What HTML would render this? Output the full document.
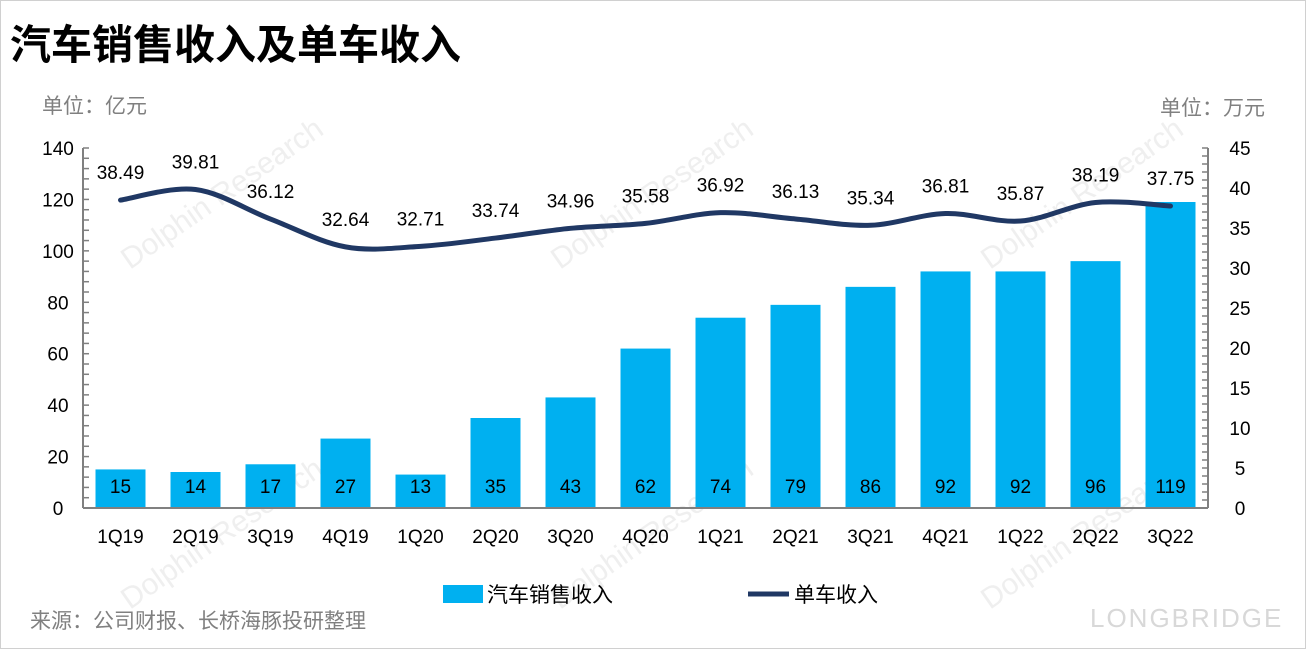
<!DOCTYPE html>
<html><head><meta charset="utf-8"><style>
body{margin:0;background:#fff;}
svg{display:block;font-family:"Liberation Sans","Noto Sans CJK SC",sans-serif;}
</style></head><body>
<svg id="c" width="1306" height="649" viewBox="0 0 1306 649">
<rect x="0.5" y="0.5" width="1305" height="648" fill="#fff" stroke="#d0d0d0"/>
<text x="10" y="59" font-size="41" font-weight="bold" fill="#000" font-family="'Noto Sans CJK SC',sans-serif">汽车销售收入及单车收入</text>
<text x="42" y="113" font-size="21" fill="#808080">单位：亿元</text>
<text x="1160" y="115" font-size="21" fill="#808080">单位：万元</text>
<g id="wm" fill="#e8e8e8" font-size="30" opacity="0.7">
<text x="130" y="270" transform="rotate(-35 130 270)">Dolphin Research</text>
<text x="560" y="270" transform="rotate(-35 560 270)">Dolphin Research</text>
<text x="990" y="270" transform="rotate(-35 990 270)">Dolphin Research</text>
<text x="130" y="610" transform="rotate(-35 130 610)">Dolphin Research</text>
<text x="560" y="610" transform="rotate(-35 560 610)">Dolphin Research</text>
<text x="990" y="610" transform="rotate(-35 990 610)">Dolphin Research</text>
</g>
<text x="1090" y="627" font-size="26" fill="#d8d8d8" letter-spacing="2">LONGBRIDGE</text>
<g id="plot"></g>
<rect x="443" y="585" width="40" height="18" fill="#00b0f0"/>
<text x="487" y="602" font-size="21" fill="#000">汽车销售收入</text>
<line x1="748" y1="594" x2="789" y2="594" stroke="#203864" stroke-width="5"/>
<text x="794" y="602" font-size="21" fill="#000">单车收入</text>
<text x="30" y="628" font-size="21" fill="#808080">来源：公司财报、长桥海豚投研整理</text>
</svg>
<script>
const categories=["1Q19","2Q19","3Q19","4Q19","1Q20","2Q20","3Q20","4Q20","1Q21","2Q21","3Q21","4Q21","1Q22","2Q22","3Q22"];
const revenue=[15,14,17,27,13,35,43,62,74,79,86,92,92,96,119];
const perCar=[38.49,39.81,36.12,32.64,32.71,33.74,34.96,35.58,36.92,36.13,35.34,36.81,35.87,38.19,37.75];
const leftTicks=[0,20,40,60,80,100,120,140];
const rightTicks=[0,5,10,15,20,25,30,35,40,45];

const NS="http://www.w3.org/2000/svg";
const g=document.getElementById('plot');
const y0=508,yTop=148,xL=83,xR=1208;
const yL=v=>y0-(y0-yTop)*v/140;
const yR=v=>y0-(y0-yTop)*v/45;
const step=75,x0=120.5;
const xC=i=>x0+i*step;
function el(t,a,txt){const e=document.createElementNS(NS,t);for(const k in a)e.setAttribute(k,a[k]);if(txt!==undefined)e.textContent=txt;g.appendChild(e);return e;}

let e=el('line',{x1:xL,y1:yTop,x2:xL,y2:y0,stroke:'#808080','stroke-width':2});

e=el('line',{x1:xR,y1:yTop,x2:xR,y2:y0,stroke:'#808080','stroke-width':2});

for(let v=0;v<=140;v+=4){const y=yL(v);e=el('line',{x1:xL,y1:y,x2:xL+6,y2:y,stroke:'#808080','stroke-width':1.5});
}
for(let v=0;v<=45;v+=1){const y=yR(v);e=el('line',{x1:xR-6,y1:y,x2:xR,y2:y,stroke:'#808080','stroke-width':1.5});
}
leftTicks.forEach(v=>{e=el('text',{x:58,y:yL(v)+7,'font-size':19,'text-anchor':'middle',fill:'#000'},String(v));
});
rightTicks.forEach(v=>{e=el('text',{x:1240,y:yR(v)+7,'font-size':19,'text-anchor':'middle',fill:'#000'},String(v));
});

categories.forEach((c,i)=>{
 const v=revenue[i];
 e=el('rect',{x:xC(i)-25,y:yL(v),width:50,height:y0-yL(v),fill:'#00b0f0'});
 
 e=el('text',{x:xC(i),y:493,'font-size':19,'text-anchor':'middle',fill:'#000'},String(v));
 
 e=el('text',{x:xC(i),y:543,'font-size':19,'text-anchor':'middle',fill:'#000'},c);
 
});
e=el('line',{x1:xL,y1:y0,x2:xR,y2:y0,stroke:'#808080','stroke-width':2});


const pts=perCar.map((v,i)=>[xC(i),yR(v)]);
let d='M'+pts[0][0]+','+pts[0][1];
for(let i=0;i<pts.length-1;i++){
 const p0=pts[Math.max(0,i-1)],p1=pts[i],p2=pts[i+1],p3=pts[Math.min(pts.length-1,i+2)];
 const t=1/6;
 d+=' C'+(p1[0]+(p2[0]-p0[0])*t)+','+(p1[1]+(p2[1]-p0[1])*t)+' '+(p2[0]-(p3[0]-p1[0])*t)+','+(p2[1]-(p3[1]-p1[1])*t)+' '+p2[0]+','+p2[1];
}
e=el('path',{d:d,fill:'none',stroke:'#203864','stroke-width':5,'stroke-linecap':'round'});

perCar.forEach((v,i)=>{
 e=el('text',{x:xC(i),y:yR(v)-21,'font-size':19,'text-anchor':'middle',fill:'#000'},v.toFixed(2));
 
});
</script>
</body></html>
